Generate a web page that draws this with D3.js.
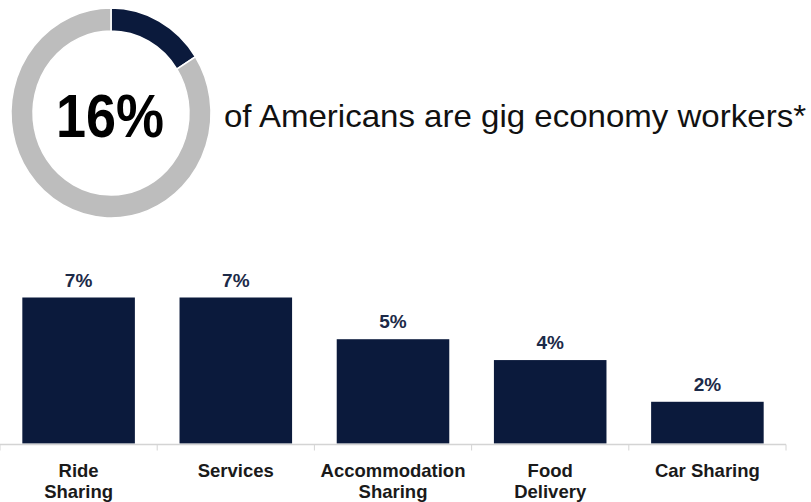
<!DOCTYPE html>
<html>
<head>
<meta charset="utf-8">
<script src="https://cdn.jsdelivr.net/npm/d3@7"></script>
<style>
  html, body { margin: 0; padding: 0; background: #fff; }
  svg { display: block; }
  text { font-family: "Liberation Sans", Arial, sans-serif; }
</style>
</head>
<body>
<svg id="chart" width="811" height="502"></svg>
<script>
// ---- data ----
const headlineShare = 16;               // % of Americans who are gig workers
const headlineText = "of Americans are gig economy workers*";
const categories = [["Ride", "Sharing"], ["Services"], ["Accommodation", "Sharing"], ["Food", "Delivery"], ["Car Sharing"]];
const values = [7, 7, 5, 4, 2];
const valueLabels = ["7%", "7%", "5%", "4%", "2%"];

// ---- styles ----
const navy = "#0b1a3c";
const grey = "#bdbdbd";

const svg = d3.select("#chart");

// ---- donut ----
const donutData = [headlineShare, 100 - headlineShare];
const pie = d3.pie().sort(null).value(d => d);
const arc = d3.arc().innerRadius(78).outerRadius(100);
const donut = svg.append("g").attr("transform", "translate(111,113) scale(1,1.05)");
donut.selectAll("path")
  .data(pie(donutData))
  .join("path")
  .attr("d", arc)
  .attr("fill", (d, i) => i === 0 ? navy : grey)
  .attr("stroke", "#fff")
  .attr("stroke-width", 1.5);

svg.append("text")
  .attr("x", 110).attr("y", 137)
  .attr("text-anchor", "middle")
  .attr("font-size", 61)
  .attr("font-weight", "bold")
  .attr("fill", "#000")
  .attr("textLength", 108)
  .attr("lengthAdjust", "spacingAndGlyphs")
  .text(headlineShare + "%");

svg.append("text")
  .attr("x", 224).attr("y", 127)
  .attr("font-size", 32)
  .attr("fill", "#111")
  .attr("textLength", 582)
  .attr("lengthAdjust", "spacingAndGlyphs")
  .text(headlineText);

// ---- bars ----
const x = d3.scaleBand()
  .domain(d3.range(values.length))
  .range([0, 786])
  .paddingInner(0.284)
  .paddingOuter(0.142);
const y = d3.scaleLinear().domain([0, 7]).range([443.5, 297.5]);

svg.append("g").selectAll("rect")
  .data(values)
  .join("rect")
  .attr("x", (d, i) => x(i))
  .attr("width", x.bandwidth())
  .attr("y", d => y(d))
  .attr("height", d => y(0) - y(d))
  .attr("fill", navy);

svg.append("g").selectAll("text")
  .data(values)
  .join("text")
  .attr("x", (d, i) => x(i) + x.bandwidth() / 2)
  .attr("y", d => y(d) - 11)
  .attr("text-anchor", "middle")
  .attr("font-size", 19)
  .attr("font-weight", "bold")
  .attr("fill", "#1c2a48")
  .text((d, i) => valueLabels[i]);

// axis line and ticks
const axisY = 444.5;
svg.append("line")
  .attr("x1", 0).attr("x2", 786)
  .attr("y1", axisY).attr("y2", axisY)
  .attr("stroke", "#d4d4d4").attr("stroke-width", 1.5);
const bounds = d3.range(values.length + 1).map(i => i * x.step());
svg.append("g").selectAll("line")
  .data(bounds)
  .join("line")
  .attr("x1", d => d).attr("x2", d => d)
  .attr("y1", axisY).attr("y2", axisY + 6)
  .attr("stroke", "#d4d4d4").attr("stroke-width", 1);

// category labels
const cat = svg.append("g").selectAll("text")
  .data(categories)
  .join("text")
  .attr("x", (d, i) => x(i) + x.bandwidth() / 2)
  .attr("y", 476.5)
  .attr("text-anchor", "middle")
  .attr("font-size", 18.5)
  .attr("font-weight", "bold")
  .attr("fill", "#1a1a1a");
cat.selectAll("tspan")
  .data(d => d)
  .join("tspan")
  .attr("x", function() { return this.parentNode.getAttribute("x"); })
  .attr("dy", (d, i) => i === 0 ? 0 : 21)
  .text(d => d);
</script>
</body>
</html>
